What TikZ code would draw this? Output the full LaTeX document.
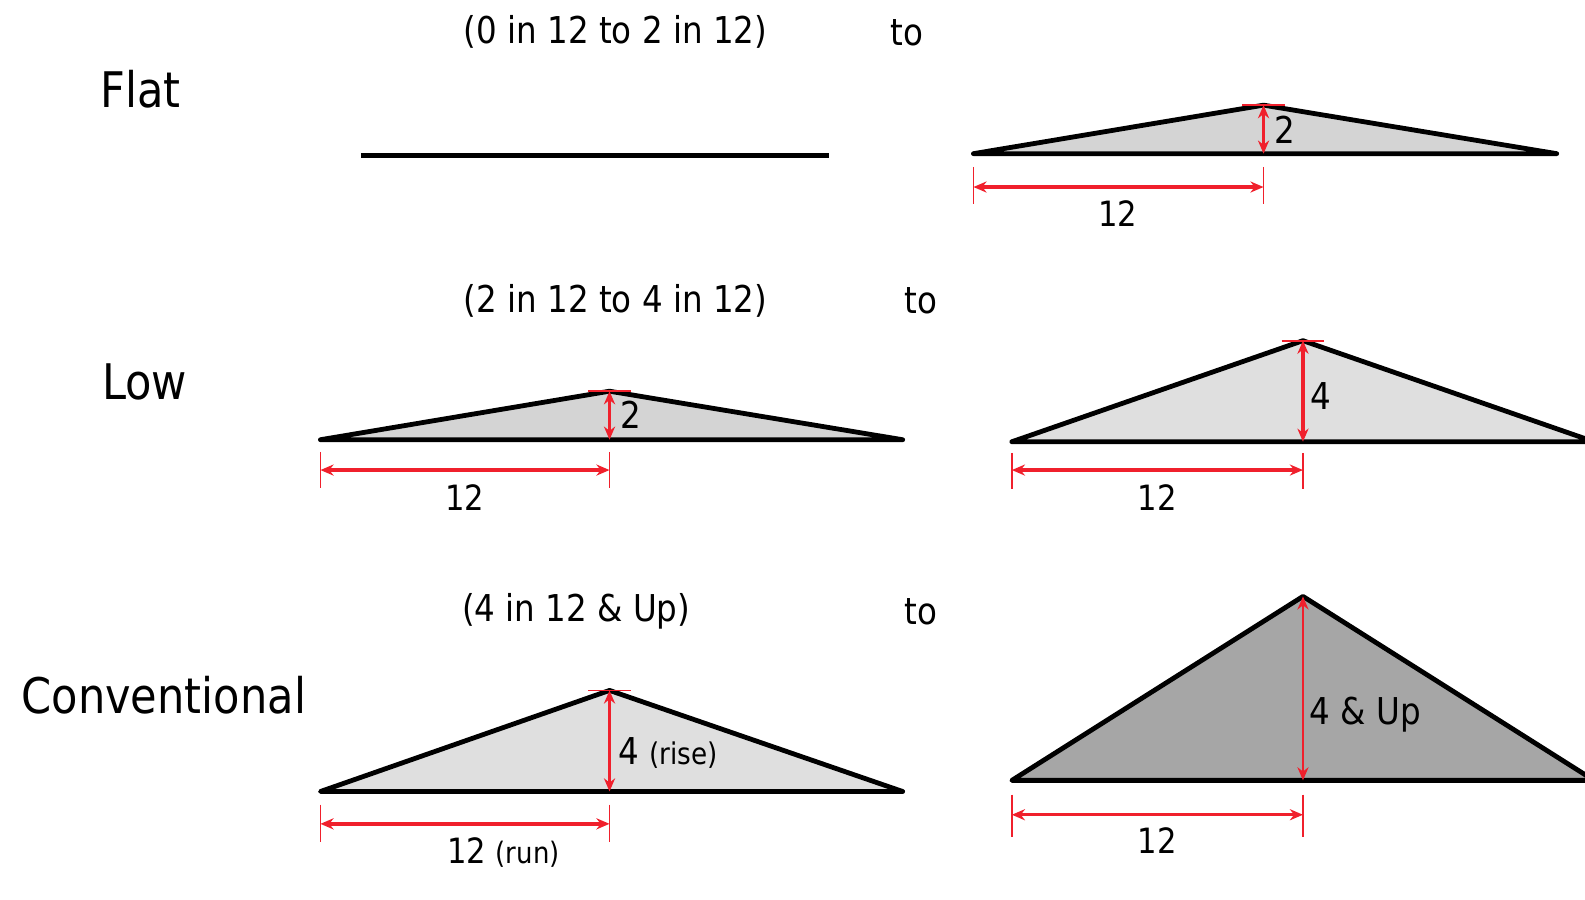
\documentclass[tikz,border=0pt]{standalone}
\usepackage{fontspec}
\setmainfont[FakeStretch=0.88]{DejaVu Sans}
\usetikzlibrary{arrows.meta,calc}
\definecolor{dimred}{RGB}{240,32,44}
\begin{document}
\begin{tikzpicture}[x=0.01cm,y=-0.01cm,
  every node/.style={font=\fontsize{10.4}{12}\selectfont,inner sep=0pt},
  heading/.style={font=\fontsize{13.8}{16}\selectfont},
  roof/.style={draw=black,line width=1.35pt,line join=round},
  dimline/.style={dimred,line width=0.95pt,{Stealth[length=1.3mm,width=1.1mm]}-{Stealth[length=1.3mm,width=1.1mm]}},
  dimtick/.style={dimred,line width=0.5pt},
  dimtext/.style={font=\fontsize{9.8}{12}\selectfont}]
\useasboundingbox (0,0) rectangle (1568,890);
\clip (0,0) rectangle (1568,890);
% row headings
\node[heading] (flat) at (139,88) {Flat};
\node[heading] (low) at (143,378) {Low};
\node[heading] (conv) at (162,688) {Conventional};
\node (flatrange) at (609,32) {(0 in 12 to 2 in 12)};
\node (flatto) at (897,32) {to};
\node (lowrange) at (609,298) {(2 in 12 to 4 in 12)};
\node (lowto) at (911,298) {to};
\node (convrange) at (570,605) {(4 in 12 \& Up)};
\node (convto) at (911,605) {to};
% flat roof, 0 in 12
\coordinate (f0l) at (357,154); \coordinate (f0r) at (820,154);
\draw[line width=1.45pt] (f0l) -- (f0r);
% flat roof, 2 in 12
\coordinate (f2l) at (963,152); \coordinate (f2a) at (1250,104); \coordinate (f2r) at (1540,152); \coordinate (f2b) at (1250,152);
\filldraw[roof,fill=gray!34] (f2l) -- (f2a) -- (f2r) -- cycle;
\draw[dimline] (f2a) -- (f2b);
\draw[dimtick] ($(f2a)+(-21,0)$) -- ($(f2a)+(21,0)$);
\node[anchor=west] (f2rise) at (1260,128) {2};
\coordinate (f2d1) at (963,185); \coordinate (f2d2) at (1250,185);
\draw[dimtick] ($(f2d1)+(0,-20)$) -- ($(f2d1)+(0,17)$);
\draw[dimtick] ($(f2d2)+(0,-20)$) -- ($(f2d2)+(0,17)$);
\draw[dimline] (f2d1) -- (f2d2);
\node[dimtext] (f2run) at (1106,211) {12};
% low roof, 2 in 12
\coordinate (l2l) at (317,435); \coordinate (l2a) at (603,387); \coordinate (l2r) at (893,435); \coordinate (l2b) at (603,435);
\filldraw[roof,fill=gray!34] (l2l) -- (l2a) -- (l2r) -- cycle;
\draw[dimline] (l2a) -- (l2b);
\draw[dimtick] ($(l2a)+(-21,0)$) -- ($(l2a)+(21,0)$);
\node[anchor=west] (l2rise) at (613,410) {2};
\coordinate (l2d1) at (317,465); \coordinate (l2d2) at (603,465);
\draw[dimtick] ($(l2d1)+(0,-18)$) -- ($(l2d1)+(0,18)$);
\draw[dimtick] ($(l2d2)+(0,-18)$) -- ($(l2d2)+(0,18)$);
\draw[dimline] (l2d1) -- (l2d2);
\node[dimtext] (l2run) at (460,492) {12};
% low roof, 4 in 12
\coordinate (l4l) at (1001,437); \coordinate (l4a) at (1289,337); \coordinate (l4r) at (1577,437); \coordinate (l4b) at (1289,437);
\filldraw[roof,fill=gray!25] (l4l) -- (l4a) -- (l4r) -- cycle;
\draw[dimline] (l4a) -- (l4b);
\draw[dimtick] ($(l4a)+(-21,0)$) -- ($(l4a)+(21,0)$);
\node[anchor=west] (l4rise) at (1296,392) {4};
\coordinate (l4d1) at (1001,465); \coordinate (l4d2) at (1289,465);
\draw[dimtick] ($(l4d1)+(0,-17)$) -- ($(l4d1)+(0,19)$);
\draw[dimtick] ($(l4d2)+(0,-17)$) -- ($(l4d2)+(0,19)$);
\draw[dimline] (l4d1) -- (l4d2);
\node[dimtext] (l4run) at (1145,492) {12};
% conventional roof, 4 in 12
\coordinate (c4l) at (317,783); \coordinate (c4a) at (603,683); \coordinate (c4r) at (893,783); \coordinate (c4b) at (603,783);
\filldraw[roof,fill=gray!25] (c4l) -- (c4a) -- (c4r) -- cycle;
\draw[dimline] (c4a) -- (c4b);
\draw[dimtick] ($(c4a)+(-21,0)$) -- ($(c4a)+(21,0)$);
\node[anchor=west] (c4rise) at (611,745) {4 {\fontsize{8.4}{10}\selectfont(rise)}};
\coordinate (c4d1) at (317,815); \coordinate (c4d2) at (603,815);
\draw[dimtick] ($(c4d1)+(0,-19)$) -- ($(c4d1)+(0,18)$);
\draw[dimtick] ($(c4d2)+(0,-19)$) -- ($(c4d2)+(0,18)$);
\draw[dimline] (c4d1) -- (c4d2);
\node[dimtext] (c4run) at (498,843) {12 {\fontsize{8.3}{10}\selectfont(run)}};
% conventional roof, 4 in 12 and up
\coordinate (c8l) at (1001,772); \coordinate (c8a) at (1289,590); \coordinate (c8r) at (1577,772); \coordinate (c8b) at (1289,772);
\filldraw[roof,fill=gray!70] (c8l) -- (c8a) -- (c8r) -- cycle;
\draw[dimline,line width=0.6pt] (c8a) -- (c8b);
\node[anchor=west] (c8rise) at (1295,707) {4 \& Up};
\coordinate (c8d1) at (1001,806); \coordinate (c8d2) at (1289,806);
\draw[dimtick] ($(c8d1)+(0,-20)$) -- ($(c8d1)+(0,22)$);
\draw[dimtick] ($(c8d2)+(0,-20)$) -- ($(c8d2)+(0,22)$);
\draw[dimline] (c8d1) -- (c8d2);
\node[dimtext] (c8run) at (1145,832) {12};
\end{tikzpicture}
\end{document}
